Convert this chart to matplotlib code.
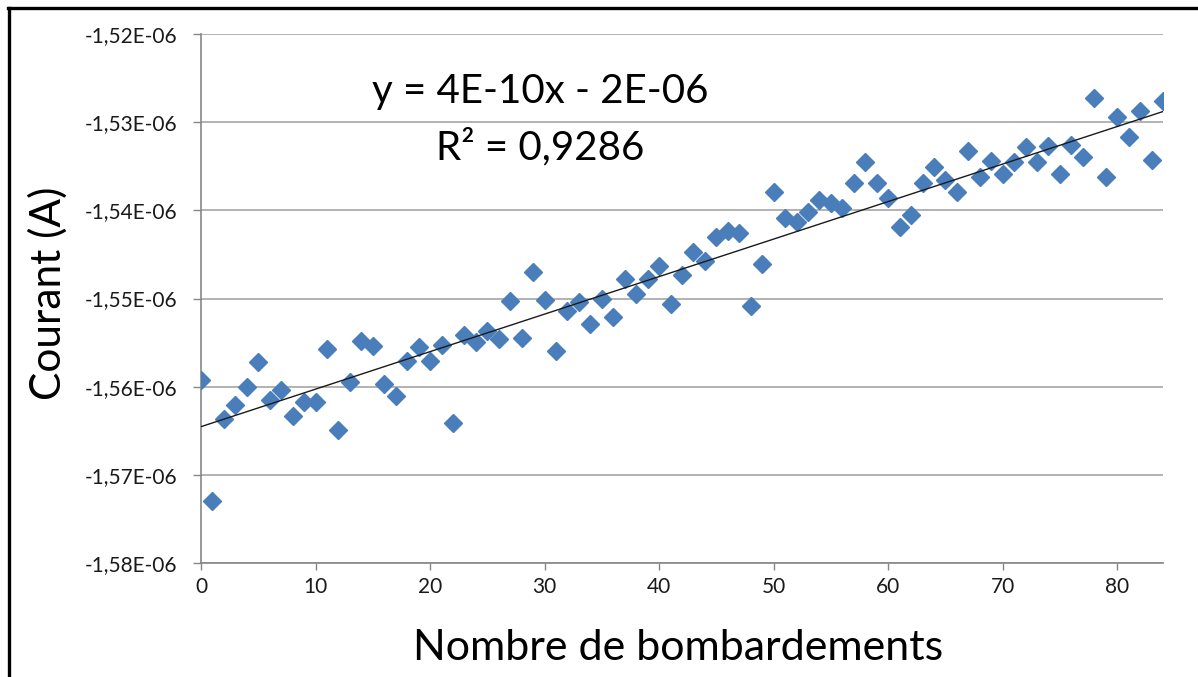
import numpy as np
import matplotlib
matplotlib.use("Agg")
import matplotlib.pyplot as plt
from matplotlib.ticker import FuncFormatter, MultipleLocator
from matplotlib.lines import Line2D

# Measured current (in µA) after each bombardment
bombardements = list(range(0, 85))
courant_uA = [
    -1.5592, -1.5730, -1.5637, -1.5621, -1.5600, -1.5572, -1.5615, -1.5604, -1.5633, -1.5617,
    -1.5617, -1.5557, -1.5649, -1.5595, -1.5548, -1.5554, -1.5597, -1.5611, -1.5571, -1.5555,
    -1.5571, -1.5553, -1.5641, -1.5541, -1.5549, -1.5537, -1.5546, -1.5503, -1.5545, -1.5470,
    -1.5502, -1.5560, -1.5514, -1.5504, -1.5529, -1.5501, -1.5521, -1.5478, -1.5495, -1.5478,
    -1.5463, -1.5506, -1.5473, -1.5447, -1.5457, -1.5430, -1.5423, -1.5426, -1.5508, -1.5461,
    -1.5379, -1.5409, -1.5413, -1.5402, -1.5388, -1.5392, -1.5397, -1.5369, -1.5345, -1.5369,
    -1.5386, -1.5419, -1.5405, -1.5369, -1.5351, -1.5366, -1.5379, -1.5333, -1.5362, -1.5344,
    -1.5359, -1.5345, -1.5328, -1.5345, -1.5327, -1.5359, -1.5326, -1.5340, -1.5273, -1.5362,
    -1.5294, -1.5317, -1.5287, -1.5343, -1.5276,
]
equation_label = "y = 4E-10x - 2E-06"
r2_label = "R² = 0,9286"
x_label = "Nombre de bombardements"
y_label = "Courant (A)"

x = np.array(bombardements, dtype=float)
y = np.array(courant_uA) * 1e-6

plt.rcParams["font.family"] = ["Lato", "DejaVu Sans"]

W, H = 1198, 677
fig = plt.figure(figsize=(W / 100, H / 100), dpi=100)
fig.patch.set_facecolor("white")

ax = fig.add_axes([201 / W, 1 - 563 / H, (1163 - 201) / W, (563 - 34) / H])

grid_col = "#a6a6a6"
axis_col = "#868686"

ax.set_xlim(0, 84)
ax.set_ylim(-1.58e-6, -1.52e-6)
ax.xaxis.set_major_locator(MultipleLocator(10))
ax.yaxis.set_major_locator(MultipleLocator(0.01e-6))

def fmt_sci(v, pos):
    return f"{v:.2E}".replace(".", ",")

ax.yaxis.set_major_formatter(FuncFormatter(fmt_sci))
ax.yaxis.grid(True, color=grid_col, linewidth=1.2)
ax.set_axisbelow(True)

for side in ("top", "right"):
    ax.spines[side].set_visible(False)
for side in ("left", "bottom"):
    ax.spines[side].set_color(axis_col)
    ax.spines[side].set_linewidth(1.2)

ax.tick_params(axis="y", direction="out", length=6, width=1, color=axis_col,
               labelsize=15, pad=11, labelcolor="#1a1a1a")
ax.tick_params(axis="x", direction="out", length=5, width=1, color=axis_col,
               labelsize=15, pad=5, labelcolor="#1a1a1a")

# Data points
ax.plot(x, y, linestyle="none", marker="D", markersize=9.5,
        color="#4a7ebb", markeredgecolor="#4a7ebb", zorder=3)

# Linear trend line
slope, intercept = np.polyfit(x, y, 1)
xt = np.array([x.min(), x.max()])
ax.plot(xt, slope * xt + intercept, color="#1a1a1a", linewidth=1.0, zorder=4)

fig.text(540 / W, 1 - 92 / H, equation_label, fontsize=29,
         ha="center", va="center", color="black")
fig.text(540 / W, 1 - 147 / H, r2_label, fontsize=29,
         ha="center", va="center", color="black")

fig.text(678 / W, 1 - 648 / H, x_label, fontsize=31, ha="center", va="center")
fig.text(48 / W, 1 - 293 / H, y_label, fontsize=30.5, ha="center", va="center",
         rotation=90)

# Frame around the chart object
fig.add_artist(Line2D([8 / W, 1], [1 - 8 / H, 1 - 8 / H], color="black",
                      linewidth=2.4, transform=fig.transFigure))
fig.add_artist(Line2D([9 / W, 9 / W], [0, 1 - 8 / H], color="black",
                      linewidth=2.4, transform=fig.transFigure))

fig.savefig("out.png", dpi=100)
